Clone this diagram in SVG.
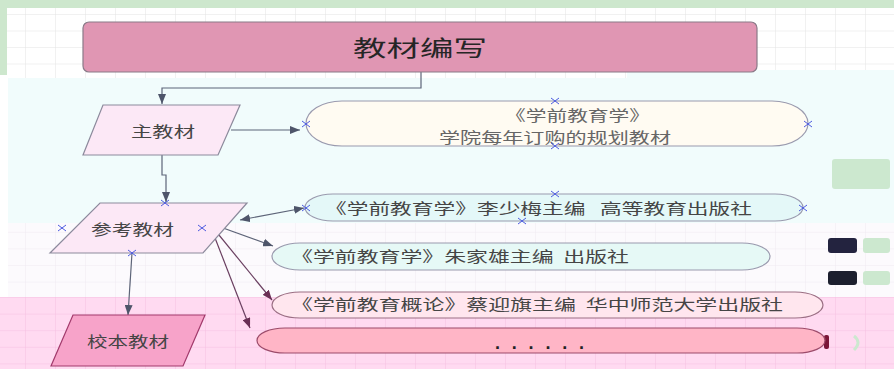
<svg xmlns="http://www.w3.org/2000/svg" width="894" height="369" viewBox="0 0 894 369">
<style>
.cjk{font-family:"Noto Sans CJK SC","Noto Sans",sans-serif;}
.lbl{font-size:15px;fill:#454545;}
.conn{fill:none;stroke:#5d6478;stroke-width:1.2;}
.connp{fill:none;stroke:#6a3f60;stroke-width:1.2;}
.xm{stroke:#4c5ae0;stroke-width:1;fill:none;}
.para{stroke:#8c8a9c;stroke-width:1.2;}
.pill{stroke:#9a9aae;stroke-width:1.2;}
</style>
<defs>
<marker id="ah" viewBox="0 0 10 8" refX="10" refY="4" markerWidth="10" markerHeight="8" markerUnits="userSpaceOnUse" orient="auto-start-reverse">
<path d="M0,0 L10,4 L0,8 z" fill="#4e556a"/>
</marker>
<marker id="ahp" viewBox="0 0 10 8" refX="10" refY="4" markerWidth="10" markerHeight="8" markerUnits="userSpaceOnUse" orient="auto">
<path d="M0,0 L10,4 L0,8 z" fill="#6a2f55"/>
</marker>
<pattern id="gTop" x="25" y="14" width="30" height="16.5" patternUnits="userSpaceOnUse">
<path d="M0,0 V16.5 M0,0 H30" stroke="#e3e3e3" stroke-width="1" fill="none"/>
</pattern>
<pattern id="gMid" x="25" y="265" width="30" height="16.6" patternUnits="userSpaceOnUse">
<path d="M0,0 V16.6 M0,0 H30" stroke="#efeaf2" stroke-width="1" fill="none"/>
</pattern>
<pattern id="gPink" x="25" y="297" width="30" height="16.6" patternUnits="userSpaceOnUse">
<path d="M0,0 V16.6 M0,0 H30" stroke="#f6bfe2" stroke-width="1" fill="none"/>
</pattern>
<path id="xs" d="M-4,-3 L4,3 M-4,3 L4,-3"/>
</defs>

<!-- background -->
<rect x="0" y="0" width="894" height="369" fill="#ffffff"/>
<rect x="0" y="0" width="894" height="78" fill="url(#gTop)"/>
<rect x="8" y="78" width="886" height="145" fill="#f1fcfc"/>
<rect x="627" y="70" width="267" height="10" fill="#f1fcfc"/>
<rect x="8" y="223" width="886" height="74" fill="#fcfafd"/>
<rect x="8" y="223" width="886" height="74" fill="url(#gMid)"/>
<rect x="0" y="297" width="894" height="72" fill="#ffdaf1"/>
<rect x="0" y="297" width="894" height="72" fill="url(#gPink)"/>
<rect x="0" y="0" width="894" height="8" fill="#cde7cd"/>
<rect x="0" y="0" width="7" height="75" fill="#cde7cd"/>

<!-- side marks -->
<rect x="832" y="159" width="58" height="30" rx="3" fill="#cce8cf"/>
<rect x="828" y="238" width="29" height="15" rx="3" fill="#23233f"/>
<rect x="863" y="238" width="27" height="15" rx="3" fill="#cce8cf"/>
<rect x="828" y="271" width="29" height="14" rx="3" fill="#1c1f2e"/>
<rect x="863" y="271" width="27" height="14" rx="3" fill="#cce8cf"/>
<rect x="824" y="335" width="5" height="14" rx="2" fill="#7a1638"/>
<path d="M854,336 Q862,342 854,350" stroke="#cce8cf" stroke-width="3" fill="none"/>

<!-- connectors -->
<g id="connectors">
<path class="conn" d="M421,72 V88 H162 V104" marker-end="url(#ah)"/>
<path class="conn" d="M231,130 H300" marker-end="url(#ah)"/>
<path class="conn" d="M162,155 V175 H166 V202" marker-end="url(#ah)"/>
<path class="conn" d="M240,220 L304,208" marker-start="url(#ah)" marker-end="url(#ah)"/>
<path class="conn" d="M212,224 L273,246" marker-end="url(#ah)"/>
<path class="connp" d="M210,224 L272,300" marker-end="url(#ahp)"/>
<path class="connp" d="M210,225 L250,328" marker-end="url(#ahp)"/>
<path class="conn" d="M132,253 L128,315" marker-end="url(#ah)"/>
</g>

<!-- nodes -->
<g id="title">
<rect x="83" y="22" width="674" height="50" rx="6" fill="#e096b3" stroke="#8a7a88" stroke-width="1.2"/>
<text class="cjk" x="353" y="56" font-size="22" fill="#262626" textLength="134" lengthAdjust="spacingAndGlyphs">教材编写</text>
</g>

<g id="main">
<polygon class="para" points="103,105 240,105 218,155 83,155" fill="#fce8f6"/>
<text class="cjk lbl" x="131" y="137" textLength="64" lengthAdjust="spacingAndGlyphs">主教材</text>
</g>

<g id="ref">
<polygon class="para" points="100,203 247,203 203,253 50,253" fill="#fce8f6"/>
<text class="cjk lbl" x="91" y="235" textLength="83" lengthAdjust="spacingAndGlyphs">参考教材</text>
</g>

<g id="school">
<polygon points="73,315 205,315 183,366 51,366" fill="#f7a3c9" stroke="#a23a6c" stroke-width="1.2"/>
<text class="cjk lbl" x="87" y="347" fill="#333" textLength="82" lengthAdjust="spacingAndGlyphs">校本教材</text>
</g>

<g id="book1">
<rect class="pill" x="306" y="101" width="502" height="45" rx="36" ry="22.5" fill="#fffbf2"/>
<text class="cjk" x="505" y="121" font-size="15" fill="#666" textLength="145" lengthAdjust="spacingAndGlyphs">《学前教育学》</text>
<text class="cjk" x="439" y="143" font-size="15" fill="#666" textLength="232" lengthAdjust="spacingAndGlyphs">学院每年订购的规划教材</text>
</g>

<g id="book2">
<rect class="pill" x="305" y="194" width="498" height="27" rx="28" ry="13.5" fill="#e4f8f8"/>
<text class="cjk lbl" x="325" y="214" xml:space="preserve" textLength="427" lengthAdjust="spacingAndGlyphs">《学前教育学》李少梅主编   高等教育出版社</text>
</g>

<g id="book3">
<rect class="pill" x="272" y="243" width="498" height="27" rx="28" ry="13.5" fill="#e6f9f6"/>
<text class="cjk lbl" x="291" y="262" xml:space="preserve" textLength="338" lengthAdjust="spacingAndGlyphs">《学前教育学》朱家雄主编  出版社</text>
</g>

<g id="book4">
<rect x="272" y="292" width="551" height="26" rx="28" ry="13" fill="#ffe6ee" stroke="#9b6f84" stroke-width="1.2"/>
<text class="cjk lbl" x="291" y="310" fill="#444" xml:space="preserve" textLength="492" lengthAdjust="spacingAndGlyphs">《学前教育概论》蔡迎旗主编  华中师范大学出版社</text>
</g>

<g id="book5">
<rect x="257" y="328" width="568" height="25" rx="28" ry="12.5" fill="#ffb5c6" stroke="#9c4b6a" stroke-width="1.2"/>
<text x="495" y="349" font-family="Liberation Sans, sans-serif" font-size="18" font-weight="bold" fill="#222" letter-spacing="11.8">......</text>
</g>

<!-- connection point marks -->
<g class="xm">
<use href="#xs" x="306" y="124"/>
<use href="#xs" x="555" y="101"/>
<use href="#xs" x="555" y="146"/>
<use href="#xs" x="808" y="124"/>
<use href="#xs" x="165" y="203"/>
<use href="#xs" x="62" y="228"/>
<use href="#xs" x="202" y="228"/>
<use href="#xs" x="132" y="253"/>
<use href="#xs" x="306" y="208"/>
<use href="#xs" x="555" y="194"/>
<use href="#xs" x="522" y="221"/>
<use href="#xs" x="803" y="208"/>
</g>
</svg>
